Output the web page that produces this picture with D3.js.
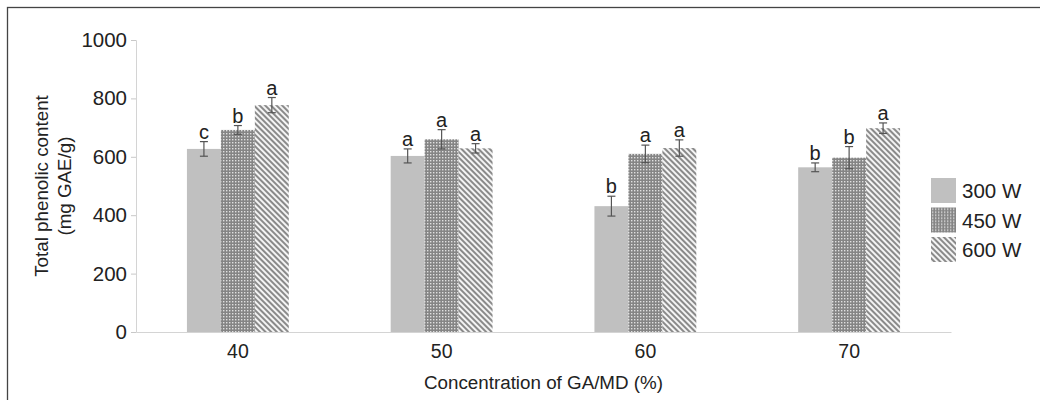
<!DOCTYPE html>
<html>
<head>
<meta charset="utf-8">
<script src="https://cdn.jsdelivr.net/npm/d3@7/dist/d3.min.js"></script>
<style>
  html, body { margin: 0; padding: 0; background: #fff; }
  svg { display: block; font-family: "Liberation Sans", Arial, sans-serif; }
</style>
</head>
<body>
<svg id="chart" width="1040" height="400"></svg>
<script>
// Concentration levels (x categories) and microwave power series
const concentrations = ["40", "50", "60", "70"];
const powers = ["300 W", "450 W", "600 W"];

// Total phenolic content (mg GAE/g) per power, in concentration order
const tpc300 = [627, 603, 431, 564];
const tpc450 = [692, 660, 610, 597];
const tpc600 = [777, 629, 630, 698];

// Standard deviations
const sd300 = [25, 24, 34, 15];
const sd450 = [15, 33, 30, 38];
const sd600 = [26, 16, 28, 18];

// Significance letters
const sig300 = ["c", "a", "b", "b"];
const sig450 = ["b", "a", "a", "b"];
const sig600 = ["a", "a", "a", "a"];

const yTicks = [0, 200, 400, 600, 800, 1000];

const series = [
  { name: powers[0], values: tpc300, sd: sd300, sig: sig300, fill: "#c0c0c0" },
  { name: powers[1], values: tpc450, sd: sd450, sig: sig450, fill: "url(#pat450)" },
  { name: powers[2], values: tpc600, sd: sd600, sig: sig600, fill: "url(#pat600)" }
];

const svg = d3.select("#chart");
const defs = svg.append("defs");

// Dotted mesh fill
const p450 = defs.append("pattern").attr("id", "pat450")
  .attr("patternUnits", "userSpaceOnUse").attr("width", 3).attr("height", 3);
p450.append("rect").attr("width", 3).attr("height", 3).attr("fill", "#858585");
p450.append("rect").attr("x", 1).attr("y", 1).attr("width", 1.4).attr("height", 1.4).attr("fill", "#e0e0e0");

// Diagonal hatch fill, running top-left to bottom-right
const p600 = defs.append("pattern").attr("id", "pat600")
  .attr("patternUnits", "userSpaceOnUse").attr("width", 4).attr("height", 4)
  .attr("patternTransform", "rotate(-45)");
p600.append("rect").attr("width", 4).attr("height", 4).attr("fill", "#f4f4f4");
p600.append("rect").attr("width", 2).attr("height", 4).attr("fill", "#8a8a8a");

// Outer frame
svg.append("rect").attr("x", 7.5).attr("y", 7.5).attr("width", 1040).attr("height", 400)
  .attr("fill", "none").attr("stroke", "#444").attr("stroke-width", 1.3);

const plot = { left: 136, right: 951, top: 40, bottom: 332 };

const x = d3.scaleBand().domain(concentrations).range([plot.left, plot.right]);
const xInner = d3.scaleBand().domain(powers).range([0, x.bandwidth() / 2]);
const y = d3.scaleLinear().domain([0, 1000]).range([plot.bottom, plot.top]);

const textColor = "#222";
const font = "Liberation Sans, Arial, sans-serif";

// Y axis
const yAxis = svg.append("g").attr("transform", `translate(${plot.left},0)`)
  .call(d3.axisLeft(y).tickValues(yTicks).tickSize(5).tickPadding(4).tickFormat(d3.format("d")));
yAxis.select(".domain").attr("stroke", "#d4d4d4");
yAxis.selectAll(".tick line").attr("stroke", "#c8c8c8");
yAxis.selectAll(".tick text").attr("fill", textColor).style("font-size", "20.5px")
  .attr("font-family", font);

// X axis
const xAxis = svg.append("g").attr("transform", `translate(0,${plot.bottom})`)
  .call(d3.axisBottom(x).tickSize(0).tickPadding(12));
xAxis.select(".domain").attr("stroke", "#d4d4d4");
xAxis.selectAll(".tick text").attr("fill", textColor).style("font-size", "19.5px")
  .attr("font-family", font);

// Bars, error bars and letters
series.forEach(s => {
  const g = svg.append("g");
  concentrations.forEach((c, i) => {
    const x0 = x(c) + x.bandwidth() / 4 + xInner(s.name);
    const w = xInner.bandwidth();
    const v = s.values[i];
    g.append("rect").attr("x", x0).attr("y", y(v))
      .attr("width", w).attr("height", y(0) - y(v)).attr("fill", s.fill);
    const cx = x0 + w / 2;
    const hi = y(v + s.sd[i]), lo = y(v - s.sd[i]);
    g.append("line").attr("x1", cx).attr("x2", cx).attr("y1", hi).attr("y2", lo)
      .attr("stroke", "#555").attr("stroke-width", 1.2);
    [hi, lo].forEach(yy => g.append("line").attr("x1", cx - 4).attr("x2", cx + 4)
      .attr("y1", yy).attr("y2", yy).attr("stroke", "#555").attr("stroke-width", 1.2));
    g.append("text").attr("x", cx).attr("y", hi - 3).attr("text-anchor", "middle")
      .attr("fill", textColor).style("font-size", "20px").text(s.sig[i]);
  });
});

// Axis titles
svg.append("text").attr("x", (plot.left + plot.right) / 2).attr("y", 389)
  .attr("text-anchor", "middle").attr("fill", textColor).style("font-size", "18.8px")
  .text("Concentration of GA/MD (%)");

const yTitle = svg.append("text").attr("transform", "translate(48,186) rotate(-90)")
  .attr("text-anchor", "middle").attr("fill", textColor).style("font-size", "18.8px");
yTitle.append("tspan").attr("x", 0).attr("dy", 0).text("Total phenolic content");
yTitle.append("tspan").attr("x", 0).attr("dy", 23).text("(mg GAE/g)");

// Legend
const legend = svg.append("g").attr("transform", "translate(931,178)");
series.forEach((s, i) => {
  const row = legend.append("g").attr("transform", `translate(0,${i * 29.5})`);
  row.append("rect").attr("width", 25).attr("height", 25).attr("fill", s.fill);
  row.append("text").attr("x", 31).attr("y", 20).attr("fill", textColor)
    .style("font-size", "20.5px").text(s.name);
});
</script>
</body>
</html>
